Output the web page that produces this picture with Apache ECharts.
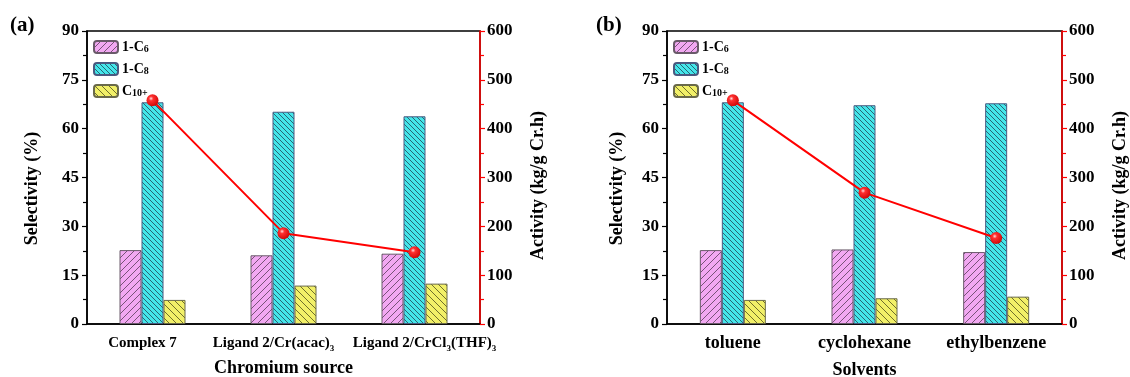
<!DOCTYPE html>
<html>
<head>
<meta charset="utf-8">
<script src="https://cdn.jsdelivr.net/npm/echarts@6/dist/echarts.min.js"></script>
<style>
html,body{margin:0;padding:0;background:#fff;}
#chart{width:1130px;height:377px;}
</style>
</head>
<body>
<div id="chart"></div>
<script>
// ---- data ----
const seriesNames = ['1-C6', '1-C8', 'C10+'];
const catsA = ['Complex 7', 'Ligand 2/Cr(acac)3', 'Ligand 2/CrCl3(THF)3'];
const c6A = [22.7, 21.1, 21.6];
const c8A = [68.1, 65.2, 63.8];
const c10A = [7.4, 11.8, 12.4];
const actA = [458, 186, 147];

const catsB = ['toluene', 'cyclohexane', 'ethylbenzene'];
const c6B = [22.7, 22.9, 22.1];
const c8B = [68.1, 67.2, 67.8];
const c10B = [7.4, 7.9, 8.4];
const actB = [458, 269, 176];

// ---- styling helpers ----
const FONT = "'Liberation Serif','Times New Roman',serif";
function hatch(bg, line, s, dir) {
  const c = document.createElement('canvas');
  c.width = s; c.height = s;
  const g = c.getContext('2d');
  g.fillStyle = bg; g.fillRect(0, 0, s, s);
  g.strokeStyle = line; g.lineWidth = 0.9;
  for (let k = -1; k <= 1; k++) {
    g.beginPath();
    if (dir === '/') { g.moveTo(k * s, s); g.lineTo(k * s + s, 0); }
    else { g.moveTo(k * s, 0); g.lineTo(k * s + s, s); }
    g.stroke();
  }
  return { image: c, repeat: 'repeat' };
}
const fills = [
  hatch('#f2a8f2', 'rgba(60,40,60,0.75)', 7, '/'),
  hatch('#44e6ea', 'rgba(30,50,70,0.8)', 5, '\\'),
  hatch('#f2f068', 'rgba(60,60,20,0.8)', 7, '\\')
];
const borders = ['#6a5a6a', '#4a5a80', '#6a6a4a'];

// label offsets as in the original figure (first two nudged left, last nudged right)
function subFmtA(s, idx) {
  const t = s.replace(/(\)|Cl)(\d)/g, '$1{s|$2}');
  return idx === 2 ? '{p|}' + t : t + '{p|}';
}
function subFmtB(s) { return s; }
function legFmt(n) {
  return n.replace(/C(\d+\+?)$/, 'C{s|$1}');
}

const grids = [
  { left: 87, top: 31, width: 393, height: 293 },
  { left: 667, top: 31, width: 395, height: 293 }
];

function xAxis(gi, cats, fs, margin, name, gap, fmt) {
  return {
    type: 'category', gridIndex: gi, data: cats,
    axisLine: { lineStyle: { color: '#000', width: 1.5 } },
    axisTick: { alignWithLabel: true, length: 5, lineStyle: { color: '#000', width: 1.2 } },
    axisLabel: {
      interval: 0, hideOverlap: false,
      margin: margin, color: '#000', fontFamily: FONT, fontWeight: 'bold', fontSize: fs,
      lineHeight: fs + 4, formatter: fmt,
      rich: {
        s: { fontFamily: FONT, fontWeight: 'bold', fontSize: Math.round(fs * 0.62), lineHeight: 10, verticalAlign: 'bottom', color: '#000' },
        p: { width: 20 }
      }
    },
    name: name, nameLocation: 'middle', nameGap: gap,
    nameTextStyle: { color: '#000', fontFamily: FONT, fontWeight: 'bold', fontSize: 18 }
  };
}
function yLeft(gi, gap) {
  return {
    type: 'value', gridIndex: gi, min: 0, max: 90, interval: 15, position: 'left',
    axisLine: { show: true, lineStyle: { color: '#000', width: 1.5 } },
    axisTick: { show: true, length: 5, lineStyle: { color: '#000', width: 1.2 } },
    minorTick: { show: true, splitNumber: 2, length: 4, lineStyle: { color: '#000', width: 1.2 } },
    splitLine: { show: false },
    axisLabel: { margin: 8, color: '#000', fontFamily: FONT, fontWeight: 'bold', fontSize: 17 },
    name: 'Selectivity (%)', nameLocation: 'middle', nameGap: gap, nameRotate: 90,
    nameTextStyle: { color: '#000', fontFamily: FONT, fontWeight: 'bold', fontSize: 18, padding: [0, 22, 0, 0] }
  };
}
function yRight(gi, gap) {
  return {
    type: 'value', gridIndex: gi, min: 0, max: 600, interval: 100, position: 'right',
    axisLine: { show: true, lineStyle: { color: '#ff0000', width: 1.5 } },
    axisTick: { show: true, length: 5, lineStyle: { color: '#ff0000', width: 1.2 } },
    minorTick: { show: true, splitNumber: 2, length: 4, lineStyle: { color: '#ff0000', width: 1.2 } },
    splitLine: { show: false },
    axisLabel: { margin: 7, color: '#000', fontFamily: FONT, fontWeight: 'bold', fontSize: 17 },
    name: 'Activity (kg/g Cr.h)', nameLocation: 'middle', nameGap: gap, nameRotate: 90,
    nameTextStyle: { color: '#000', fontFamily: FONT, fontWeight: 'bold', fontSize: 18, padding: [0, 16, 0, 0] }
  };
}
function bars(xi, yi, arrs) {
  return arrs.map((d, i) => ({
    name: seriesNames[i], type: 'bar', xAxisIndex: xi, yAxisIndex: yi, data: d,
    barWidth: 22, barGap: '0%',
    itemStyle: { color: fills[i], borderColor: borders[i], borderWidth: 1 }
  }));
}
const ball = {
  type: 'radial', x: 0.38, y: 0.35, r: 0.75,
  colorStops: [{ offset: 0, color: '#ffe0e0' }, { offset: 0.25, color: '#ff3030' }, { offset: 1, color: '#c80000' }]
};
function line(xi, yi, d) {
  return {
    name: 'Activity', type: 'line', xAxisIndex: xi, yAxisIndex: yi, data: d,
    symbol: 'circle', symbolSize: 12, z: 5,
    lineStyle: { color: '#ff0000', width: 2 },
    itemStyle: { color: ball, borderWidth: 0 }
  };
}
function legend(left) {
  return {
    data: seriesNames, orient: 'vertical', left: left, top: 35,
    itemWidth: 24, itemHeight: 12, itemGap: 8, selectedMode: false,
    textStyle: {
      color: '#000', fontFamily: FONT, fontWeight: 'bold', fontSize: 14, padding: [0, 0, 0, -1],
      rich: { s: { fontFamily: FONT, fontWeight: 'bold', fontSize: 10, lineHeight: 8, verticalAlign: 'bottom', color: '#000' } }
    },
    formatter: legFmt
  };
}

const chart = echarts.init(document.getElementById('chart'), null, { renderer: 'canvas' });
chart.setOption({
  backgroundColor: '#fff',
  animation: false,
  grid: grids.map(g => Object.assign({ show: true, borderColor: '#000', borderWidth: 1.5, backgroundColor: 'transparent', containLabel: false, outerBoundsMode: 'none' }, g)),
  legend: [legend(88), legend(668)],
  xAxis: [
    xAxis(0, catsA, 15, 10, 'Chromium source', 35, subFmtA),
    xAxis(1, catsB, 18, 8, 'Solvents', 37, subFmtB)
  ],
  yAxis: [yLeft(0, 46), yRight(0, 49), yLeft(1, 41), yRight(1, 49)],
  series: [
    ...bars(0, 0, [c6A, c8A, c10A]),
    line(0, 1, actA),
    ...bars(1, 2, [c6B, c8B, c10B]),
    line(1, 3, actB)
  ],
  graphic: [
    { type: 'text', left: 10, top: 15, style: { text: '(a)', font: "bold 21px 'Liberation Serif','Times New Roman',serif", fill: '#000' } },
    { type: 'text', left: 596, top: 15, style: { text: '(b)', font: "bold 21px 'Liberation Serif','Times New Roman',serif", fill: '#000' } }
  ]
});
</script>
</body>
</html>
